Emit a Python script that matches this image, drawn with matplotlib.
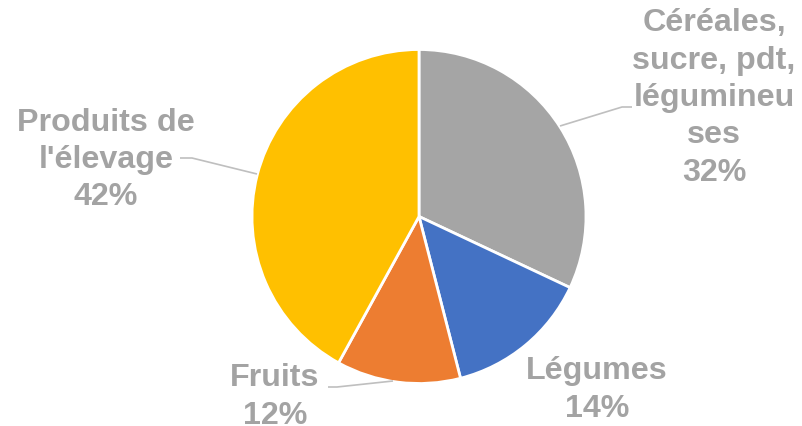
import matplotlib
matplotlib.use("Agg")
import matplotlib.pyplot as plt

labels = ["Céréales,\nsucre, pdt,\nlégumineu\nses", "Légumes", "Fruits", "Produits de\nl'élevage"]
values = [32, 14, 12, 42]
colors = ["#A5A5A5", "#4472C4", "#ED7D31", "#FFC000"]

W, H = 802, 426
fig = plt.figure(figsize=(W / 100, H / 100), dpi=100)
ax = fig.add_axes([0, 0, 1, 1])

cx, cy, r = 419, H - 216.5, 167
ax.pie(values, colors=colors, startangle=90, counterclock=False,
       center=(cx, cy), radius=r, frame=True,
       wedgeprops=dict(edgecolor="white", linewidth=2))
ax.set_xlim(0, W)
ax.set_ylim(0, H)
ax.axis("off")

txt_color = "#A3A3A3"
font = dict(family=["Liberation Sans", "DejaVu Sans"], weight="bold", size=23.2,
            color=txt_color, ha="center", va="center", multialignment="center",
            linespacing=1.32)

pos = [(714, 98), (597, 390), (275, 397), (106, 160)]
for lab, v, (x, y) in zip(labels, values, pos):
    ax.text(x, H - y, f"{lab}\n{v}%", **font)

leaders = [
    [(560, 126), (622, 107), (632, 107)],
    [(257, 174), (192, 158), (180, 158)],
    [(393, 381), (337, 387), (328, 387)],
]
for pts in leaders:
    xs = [p[0] for p in pts]
    ys = [H - p[1] for p in pts]
    ax.plot(xs, ys, color="#BFBFBF", linewidth=1.2, solid_capstyle="butt")

fig.savefig("out.png", dpi=100)
